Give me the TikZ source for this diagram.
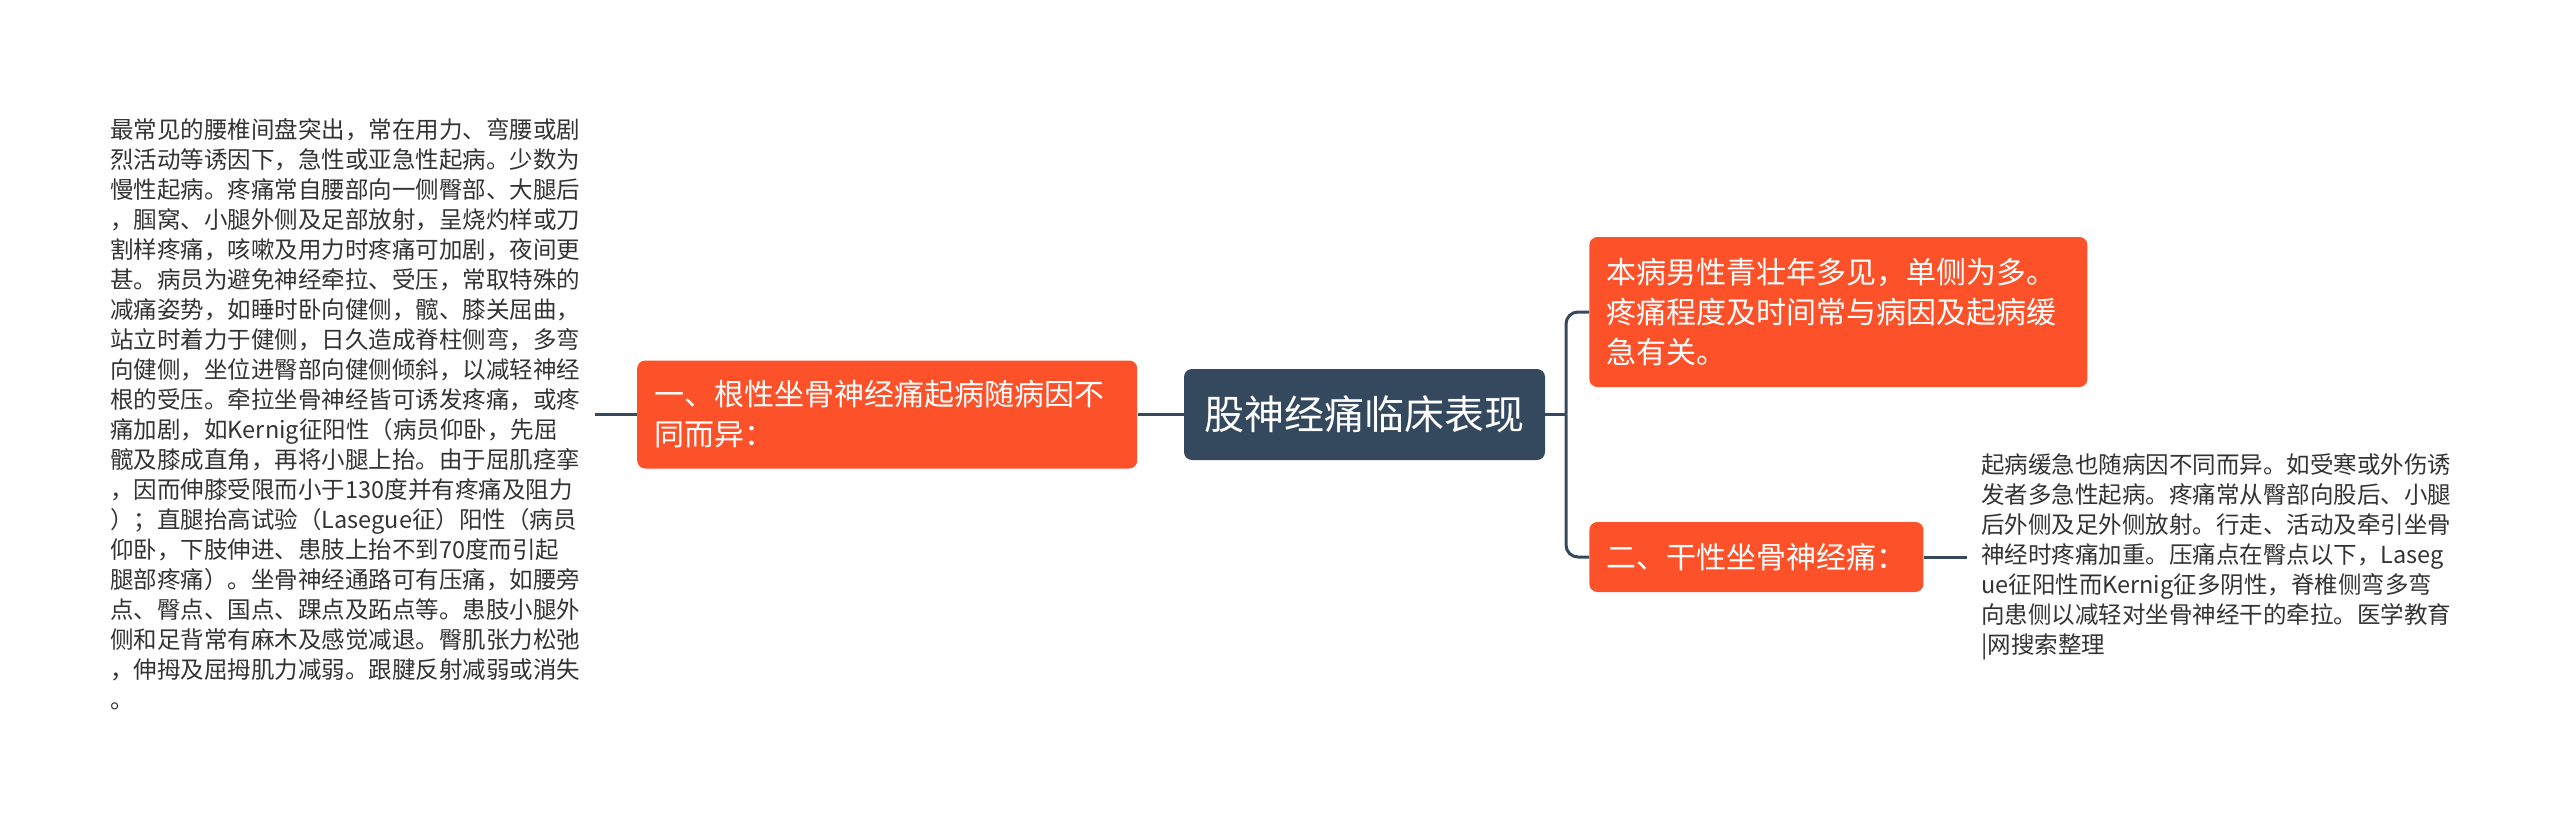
\documentclass[tikz,border=0pt]{standalone}
\usepackage{fontspec}
\setmainfont{Noto Sans CJK SC}
\definecolor{mapSlate}{RGB}{53, 73, 94}
\definecolor{mapOrange}{RGB}{252, 81, 41}
\definecolor{mapText}{RGB}{51, 51, 51}
\usetikzlibrary{positioning}

\begin{document}
\begin{tikzpicture}[
        x=0.5pt, y=-0.5pt,
        topic/.style={rectangle, rounded corners=4pt, fill=mapSlate, text=white,
                      minimum width=180.5pt, minimum height=45.5pt,
                      font=\fontsize{20pt}{24pt}\selectfont},
        branch/.style={rectangle, rounded corners=4pt, fill=mapOrange, text=white,
                       inner xsep=8.5pt, inner ysep=6pt, align=left,
                       font=\fontsize{15pt}{20pt}\selectfont},
        leaf/.style={inner xsep=7pt, inner ysep=2pt, align=left, text=mapText,
                     font=\fontsize{11.75pt}{15pt}\selectfont},
        conn/.style={draw=mapSlate, line width=1.5pt}
      ]
      \useasboundingbox (0,0) rectangle (2560,830);
      \node[topic] (root) at (1364.5,414.5) {股神经痛临床表现};
      % left side
      \node[branch, text width=233pt, minimum height=54pt, left=23pt of root] (b1)
            {一、根性坐骨神经痛起病随病因不\\
             同而异：};
      \node[leaf, left=21pt of b1] (b1txt)
            {最常见的腰椎间盘突出，常在用力、弯腰或剧\\
             烈活动等诱因下，急性或亚急性起病。少数为\\
             慢性起病。疼痛常自腰部向一侧臀部、大腿后\\
             ，腘窝、小腿外侧及足部放射，呈烧灼样或刀\\
             割样疼痛，咳嗽及用力时疼痛可加剧，夜间更\\
             甚。病员为避免神经牵拉、受压，常取特殊的\\
             减痛姿势，如睡时卧向健侧，髋、膝关屈曲，\\
             站立时着力于健侧，日久造成脊柱侧弯，多弯\\
             向健侧，坐位进臀部向健侧倾斜，以减轻神经\\
             根的受压。牵拉坐骨神经皆可诱发疼痛，或疼\\
             痛加剧，如Kernig征阳性（病员仰卧，先屈\\
             髋及膝成直角，再将小腿上抬。由于屈肌痉挛\\
             ，因而伸膝受限而小于130度并有疼痛及阻力\\
             ）；直腿抬高试验（Lasegue征）阳性（病员\\
             仰卧，下肢伸进、患肢上抬不到70度而引起\\
             腿部疼痛）。坐骨神经通路可有压痛，如腰旁\\
             点、臀点、国点、踝点及跖点等。患肢小腿外\\
             侧和足背常有麻木及感觉减退。臀肌张力松弛\\
             ，伸拇及屈拇肌力减弱。跟腱反射减弱或消失\\
             。};
      % right side
      \coordinate (fork) at (1566,414.5);
      \node[branch, text width=232pt, minimum height=75pt, anchor=west] (b2) at (1589,312)
            {本病男性青壮年多见，单侧为多。\\
             疼痛程度及时间常与病因及起病缓\\
             急有关。};
      \node[branch, minimum width=165.5pt, minimum height=35pt, anchor=west] (b3) at (1589,557)
            {二、干性坐骨神经痛：};
      \node[leaf, right=21.5pt of b3] (b3txt)
            {起病缓急也随病因不同而异。如受寒或外伤诱\\
             发者多急性起病。疼痛常从臀部向股后、小腿\\
             后外侧及足外侧放射。行走、活动及牵引坐骨\\
             神经时疼痛加重。压痛点在臀点以下，Laseg\\
             ue征阳性而Kernig征多阴性，脊椎侧弯多弯\\
             向患侧以减轻对坐骨神经干的牵拉。医学教育\\
             |网搜索整理};
      \draw[conn] (root) -- (b1);
      \draw[conn] (b1) -- (b1txt);
      \draw[conn] (root) -- (fork);
      \draw[conn, rounded corners=6pt] (fork) |- (b2);
      \draw[conn, rounded corners=6pt] (fork) |- (b3);
      \draw[conn] (b3) -- (b3txt);
\end{tikzpicture}
\end{document}
